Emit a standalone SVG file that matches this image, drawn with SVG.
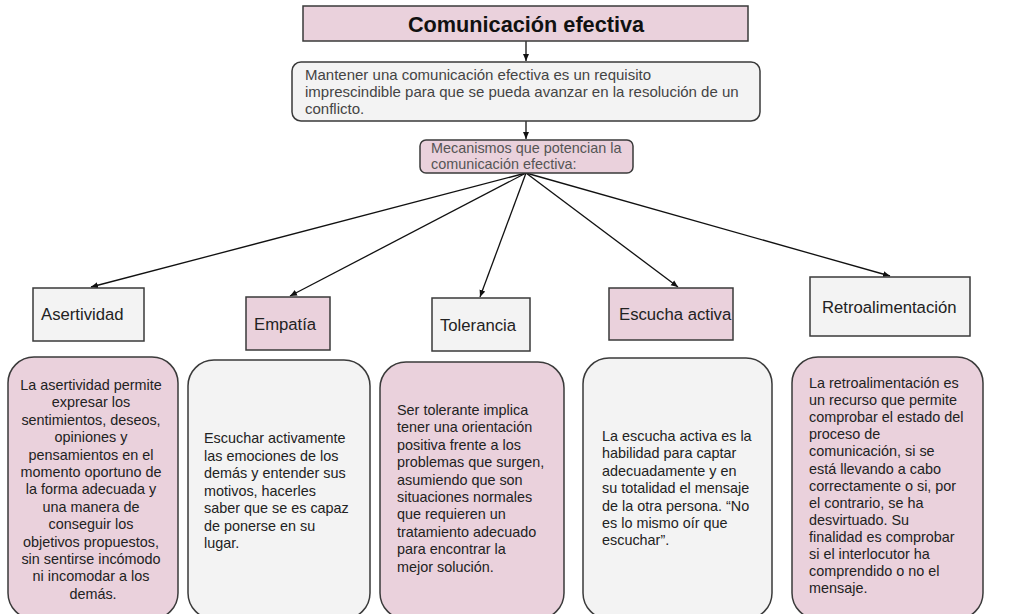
<svg xmlns="http://www.w3.org/2000/svg" width="1024" height="614" viewBox="0 0 1024 614">
<defs>
<marker id="ah" markerWidth="8" markerHeight="8" refX="7" refY="4" orient="auto" markerUnits="userSpaceOnUse">
<path d="M0,1 L7,4 L0,7 z" fill="#111"/>
</marker>
<style>
.pink{fill:#ead1dc;stroke:#3a3a3a;stroke-width:1.5}
.gray{fill:#f3f3f3;stroke:#3a3a3a;stroke-width:1.5}
.t{font-family:"Liberation Sans",Arial,sans-serif;fill:#222}
.s14{font-size:14.4px}
.s16{font-size:16.7px}
.conn line{stroke:#111;stroke-width:1.3;marker-end:url(#ah)}
</style>
</defs>
<rect width="1024" height="614" fill="#ffffff"/>

<g class="conn" id="connectors">
<line x1="526" y1="41" x2="526" y2="61"/>
<line x1="526" y1="121" x2="526" y2="139"/>
<line x1="526" y1="173" x2="91" y2="287"/>
<line x1="526" y1="173" x2="290" y2="296"/>
<line x1="526" y1="173" x2="480" y2="297"/>
<line x1="526" y1="173" x2="678" y2="287"/>
<line x1="526" y1="173" x2="890" y2="276"/>
</g>

<g id="title">
<rect class="pink" x="303" y="6" width="445" height="35"/>
<text class="t" x="526" y="32" font-size="21.7" font-weight="bold" text-anchor="middle" style="fill:#111">Comunicación efectiva</text>
</g>

<g id="intro">
<rect class="gray" x="292" y="62" width="468" height="59" rx="9"/>
<text class="t" font-size="15" style="fill:#444">
<tspan x="305" y="80">Mantener una comunicación efectiva es un requisito</tspan>
<tspan x="305" y="97">imprescindible para que se pueda avanzar en la resolución de un</tspan>
<tspan x="305" y="114">conflicto.</tspan>
</text>
</g>

<g id="mecanismos">
<rect class="pink" x="420" y="140" width="213" height="33" rx="6"/>
<text class="t s14" style="fill:#555">
<tspan x="431" y="153">Mecanismos que potencian la</tspan>
<tspan x="431" y="169">comunicación efectiva:</tspan>
</text>
</g>

<g id="asertividad">
<rect class="gray" x="33" y="288" width="111" height="53"/>
<text class="t s16" x="41" y="320">Asertividad</text>
</g>
<g id="empatia">
<rect class="pink" x="246" y="297" width="84" height="53"/>
<text class="t s16" x="254" y="330">Empatía</text>
</g>
<g id="tolerancia">
<rect class="gray" x="432" y="298" width="98" height="53"/>
<text class="t s16" x="440" y="331">Tolerancia</text>
</g>
<g id="escucha">
<rect class="pink" x="609" y="288" width="124" height="52"/>
<text class="t s16" x="619" y="320">Escucha activa</text>
</g>
<g id="retro">
<rect class="gray" x="810" y="277" width="160" height="59"/>
<text class="t s16" x="822" y="313">Retroalimentación</text>
</g>

<g id="asertividad-desc">
<rect class="pink" x="8" y="357" width="170" height="262" rx="26"/>
<text class="t s14" text-anchor="middle">
<tspan x="93" y="390">La asertividad permite</tspan>
<tspan x="93" y="407.4">expresar los</tspan>
<tspan x="93" y="424.8">sentimientos, deseos,</tspan>
<tspan x="93" y="442.2">opiniones y</tspan>
<tspan x="93" y="459.6">pensamientos en el</tspan>
<tspan x="93" y="477">momento oportuno de</tspan>
<tspan x="93" y="494.4">la forma adecuada y</tspan>
<tspan x="93" y="511.8">una manera de</tspan>
<tspan x="93" y="529.2">conseguir los</tspan>
<tspan x="93" y="546.6">objetivos propuestos,</tspan>
<tspan x="93" y="564">sin sentirse incómodo</tspan>
<tspan x="93" y="581.4">ni incomodar a los</tspan>
<tspan x="93" y="598.8">demás.</tspan>
</text>
</g>

<g id="empatia-desc">
<rect class="gray" x="188" y="360" width="182" height="259" rx="26"/>
<text class="t s14">
<tspan x="204" y="443">Escuchar activamente</tspan>
<tspan x="204" y="460.5">las emociones de los</tspan>
<tspan x="204" y="478">demás y entender sus</tspan>
<tspan x="204" y="495.5">motivos, hacerles</tspan>
<tspan x="204" y="513">saber que se es capaz</tspan>
<tspan x="204" y="530.5">de ponerse en su</tspan>
<tspan x="204" y="548">lugar.</tspan>
</text>
</g>

<g id="tolerancia-desc">
<rect class="pink" x="380" y="362" width="184" height="257" rx="26"/>
<text class="t s14">
<tspan x="397" y="415">Ser tolerante implica</tspan>
<tspan x="397" y="432.4">tener una orientación</tspan>
<tspan x="397" y="449.8">positiva frente a los</tspan>
<tspan x="397" y="467.2">problemas que surgen,</tspan>
<tspan x="397" y="484.6">asumiendo que son</tspan>
<tspan x="397" y="502">situaciones normales</tspan>
<tspan x="397" y="519.4">que requieren un</tspan>
<tspan x="397" y="536.8">tratamiento adecuado</tspan>
<tspan x="397" y="554.2">para encontrar la</tspan>
<tspan x="397" y="571.6">mejor solución.</tspan>
</text>
</g>

<g id="escucha-desc">
<rect class="gray" x="583" y="358" width="189" height="261" rx="26"/>
<text class="t s14">
<tspan x="602" y="441">La escucha activa es la</tspan>
<tspan x="602" y="458.4">habilidad para captar</tspan>
<tspan x="602" y="475.8">adecuadamente y en</tspan>
<tspan x="602" y="493.2">su totalidad el mensaje</tspan>
<tspan x="602" y="510.6">de la otra persona. “No</tspan>
<tspan x="602" y="528">es lo mismo oír que</tspan>
<tspan x="602" y="545.4">escuchar”.</tspan>
</text>
</g>

<g id="retro-desc">
<rect class="pink" x="792" y="357" width="191" height="262" rx="26"/>
<text class="t s14">
<tspan x="809" y="388">La retroalimentación es</tspan>
<tspan x="809" y="405.1">un recurso que permite</tspan>
<tspan x="809" y="422.2">comprobar el estado del</tspan>
<tspan x="809" y="439.3">proceso de</tspan>
<tspan x="809" y="456.4">comunicación, si se</tspan>
<tspan x="809" y="473.5">está llevando a cabo</tspan>
<tspan x="809" y="490.6">correctamente o si, por</tspan>
<tspan x="809" y="507.7">el contrario, se ha</tspan>
<tspan x="809" y="524.8">desvirtuado. Su</tspan>
<tspan x="809" y="541.9">finalidad es comprobar</tspan>
<tspan x="809" y="559">si el interlocutor ha</tspan>
<tspan x="809" y="576.1">comprendido o no el</tspan>
<tspan x="809" y="593.2">mensaje.</tspan>
</text>
</g>
</svg>
